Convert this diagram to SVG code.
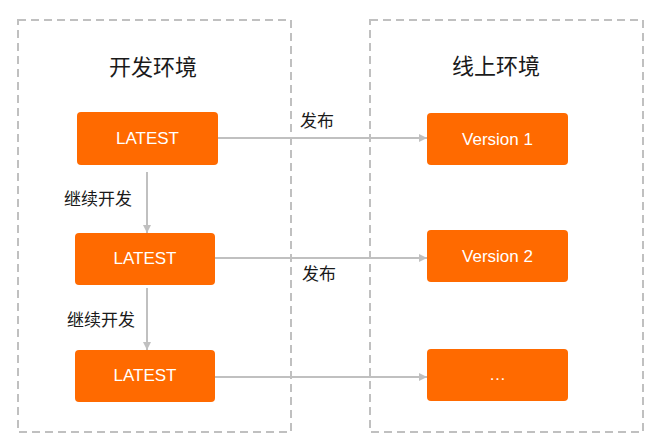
<svg xmlns="http://www.w3.org/2000/svg" width="660" height="447" viewBox="0 0 660 447">
<style>
.env{fill:none;stroke:#c0c0c0;stroke-width:2;stroke-dasharray:8 5}
.box{fill:#ff6a00}
.bt{fill:#ffffff;font-family:"Liberation Sans",Arial,sans-serif;font-size:17px;text-anchor:middle}
.title{fill:#1a1a1a;font-family:"Noto Sans CJK SC","Liberation Sans",sans-serif;font-size:22px;text-anchor:middle}
.lbl{fill:#1a1a1a;font-family:"Noto Sans CJK SC","Liberation Sans",sans-serif;font-size:17px}
.ln{fill:none;stroke:#c0c0c0;stroke-width:2;marker-end:url(#ah)}
</style>
<defs>
<marker id="ah" viewBox="0 0 10 10" refX="10" refY="5" markerWidth="4" markerHeight="4" orient="auto" markerUnits="strokeWidth">
<path d="M0,0 L10,5 L0,10 z" fill="#c0c0c0"/>
</marker>
</defs>
<rect width="660" height="447" fill="#ffffff"/>
<g id="dev-env">
<rect class="env" x="18" y="20" width="273" height="412"/>
<text class="title" x="153" y="75">开发环境</text>
</g>
<g id="prod-env">
<rect class="env" x="370" y="20" width="273" height="412"/>
<text class="title" x="496" y="74">线上环境</text>
</g>
<g id="connectors">
<line class="ln" x1="218" y1="138" x2="427" y2="138"/>
<line class="ln" x1="147" y1="172" x2="147" y2="233"/>
<line class="ln" x1="215" y1="258" x2="427" y2="258"/>
<line class="ln" x1="147" y1="288" x2="147" y2="350"/>
<line class="ln" x1="215" y1="377" x2="427" y2="377"/>
<text class="lbl" x="300" y="127">发布</text>
<text class="lbl" x="64" y="205">继续开发</text>
<text class="lbl" x="302" y="280">发布</text>
<text class="lbl" x="67" y="326">继续开发</text>
</g>
<g id="latest1">
<rect class="box" x="77" y="112" width="141" height="53" rx="4"/>
<text class="bt" x="147.5" y="144">LATEST</text>
</g>
<g id="latest2">
<rect class="box" x="75" y="233" width="140" height="52" rx="4"/>
<text class="bt" x="145" y="264">LATEST</text>
</g>
<g id="latest3">
<rect class="box" x="75" y="350" width="140" height="52" rx="4"/>
<text class="bt" x="145" y="381">LATEST</text>
</g>
<g id="version1">
<rect class="box" x="427" y="113" width="141" height="52" rx="4"/>
<text class="bt" x="497.5" y="145">Version 1</text>
</g>
<g id="version2">
<rect class="box" x="427" y="230" width="141" height="52" rx="4"/>
<text class="bt" x="497.5" y="262">Version 2</text>
</g>
<g id="version-more">
<rect class="box" x="427" y="349" width="141" height="52" rx="4"/>
<text class="bt" x="497.5" y="380">…</text>
</g>
</svg>
